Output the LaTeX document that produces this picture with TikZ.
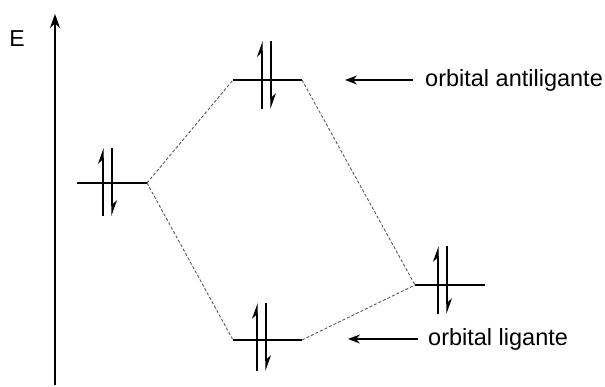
\documentclass[tikz,border=0pt]{standalone}
\usepackage{fontspec}
\setmainfont{Liberation Sans}
\usetikzlibrary{arrows.meta,positioning}

\tikzset{
  level/.style={line width=1.3pt},
  link/.style={densely dashed, line width=0.9pt, black!65},
  spinup/.style={line width=1.3pt, -{Stealth[harpoon, length=14pt, width=10pt]}},
  spindown/.style={line width=1.3pt, -{Stealth[harpoon, length=14pt, width=10pt]}},
  pointer/.style={line width=1.3pt, -{Stealth[length=12pt, width=9pt]}},
  label/.style={anchor=west, inner sep=0pt, font=\fontsize{23.5}{27}\selectfont}
}

\begin{document}
\begin{tikzpicture}[x=1pt, y=-1pt]
  \useasboundingbox (0,0) rectangle (605,387);

  % energy axis
  \coordinate (axis bottom) at (55,385);
  \coordinate (axis top) at (55,14);
  \draw[line width=1.3pt, -{Stealth[length=14pt, width=10pt]}] (axis bottom) -- (axis top);
  \node[anchor=center, font=\fontsize{23}{27}\selectfont] (E) at (17,39) {E};

  % levels: left atom, antibonding, bonding, right atom
  \coordinate (L1) at (77,183);  \coordinate (L2) at (147,183);
  \coordinate (A1) at (233,80);  \coordinate (A2) at (302,80);
  \coordinate (B1) at (233,340); \coordinate (B2) at (302,340);
  \coordinate (R1) at (415,285); \coordinate (R2) at (485,285);

  \draw[level] (L1) -- (L2);
  \draw[level] (A1) -- (A2);
  \draw[level] (B1) -- (B2);
  \draw[level] (R1) -- (R2);

  % correlation lines
  \draw[link] (L2) -- (A1);
  \draw[link] (L2) -- (B1);
  \draw[link] (A2) -- (R1);
  \draw[link] (B2) -- (R1);

  % electron pairs
  \foreach \xa/\yc in {103/183, 262/76, 257/338, 438/281} {
    \draw[spinup] (\xa,\yc+33) -- (\xa,\yc-35);
    \draw[spindown] (\xa+9,\yc-35) -- (\xa+9,\yc+33);
  }

  % labels
  \node[label] (anti) at (425,80) {orbital antiligante};
  \node[label] (bond) at (428,339) {orbital ligante};
  \coordinate (anti end) at (345,80);
  \coordinate (bond end) at (348,339);
  \draw[pointer] ([xshift=-12pt]anti.west) -- (anti end);
  \draw[pointer] ([xshift=-10pt]bond.west) -- (bond end);
\end{tikzpicture}
\end{document}
